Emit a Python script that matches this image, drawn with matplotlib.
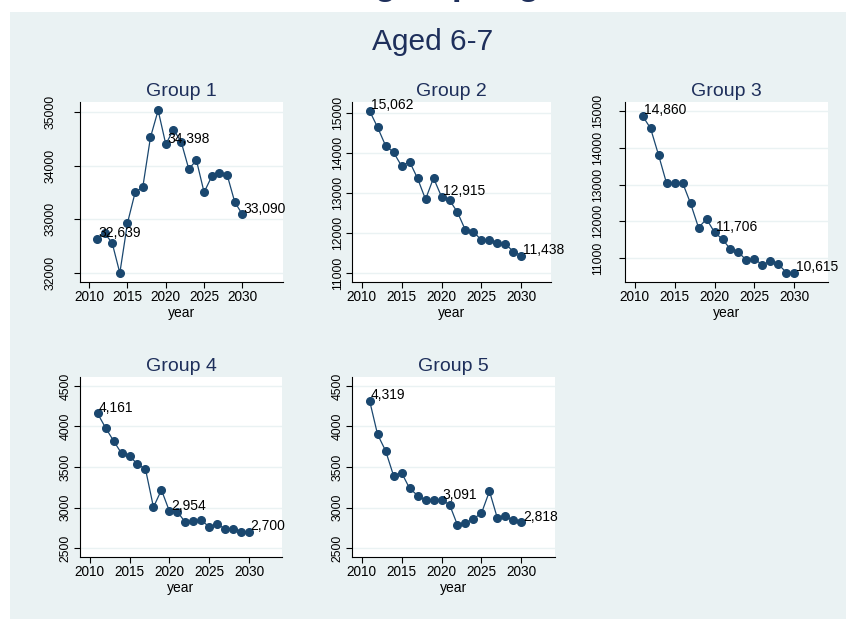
import numpy as np
import matplotlib.pyplot as plt
from matplotlib.patches import Rectangle

plt.rcParams['font.family'] = ['Liberation Sans', 'DejaVu Sans']

# Datos por grupo
years = np.arange(2011, 2031)

group1 = [32639, 32745, 32559, 32000, 32932, 33503, 33602, 34528, 35031, 34398,
          34671, 34447, 33938, 34099, 33503, 33801, 33863, 33832, 33323, 33090]
group2 = [15062, 14650, 14192, 14025, 13683, 13792, 13375, 12850, 13383, 12915,
          12833, 12525, 12075, 12042, 11825, 11833, 11750, 11733, 11542, 11438]
group3 = [14860, 14521, 13799, 13032, 13032, 13050, 12490, 11831, 12065, 11706,
          11515, 11244, 11163, 10946, 10982, 10820, 10928, 10837, 10612, 10615]
group4 = [4161, 3984, 3824, 3668, 3639, 3533, 3475, 3004, 3217, 2954,
          2947, 2816, 2836, 2844, 2758, 2799, 2730, 2738, 2697, 2700]
group5 = [4319, 3902, 3701, 3393, 3430, 3238, 3148, 3090, 3090, 3091,
          3037, 2783, 2807, 2861, 2930, 3201, 2865, 2889, 2844, 2818]

titles = ['Group 1', 'Group 2', 'Group 3', 'Group 4', 'Group 5']
series = [group1, group2, group3, group4, group5]
yticks = [np.arange(32000, 35001, 1000), np.arange(11000, 15001, 1000),
          np.arange(11000, 15001, 1000), np.arange(2500, 4501, 500),
          np.arange(2500, 4501, 500)]
labelled_years = [2011, 2020, 2030]

# posiciones en pixeles: izquierda, arriba, derecha, abajo
boxes = [(80, 102, 283, 282), (352, 102, 551, 282), (625, 102, 828, 282),
         (80, 377, 282, 557), (352, 377, 555, 557)]
xlims = [(2008.8, 2035.3), (2008.8, 2033.7), (2008.8, 2034.2),
         (2008.8, 2034.1), (2008.8, 2034.2)]
ylims = [(31832, 35186), (10783, 15283), (10358, 15236),
         (2389, 4611), (2389, 4611)]
ypads = [12.5, 2, 11, 2, 2]

W, H = 846, 619
navy = '#1a476f'
bg = '#eaf2f3'
title_col = '#1e2f5b'

fig = plt.figure(figsize=(W / 100, H / 100), dpi=100)
fig.patch.set_facecolor('white')
fig.add_artist(Rectangle((10 / W, 0), 1, 1 - 12 / H, transform=fig.transFigure,
                         facecolor=bg, edgecolor='none', zorder=0))

# titulo principal (queda cortado en el borde superior)
fig.text(507 / W, 1 + 5 / H, 'group: Aged 6-7', ha='center', va='baseline',
         fontsize=25, fontweight='bold', color=title_col)
fig.text(433 / W, 1 - 42 / H, 'Aged 6-7', ha='center', va='center',
         fontsize=21.5, color=title_col)

for i in range(5):
    l, t, r, b = boxes[i]
    ax = fig.add_axes([l / W, 1 - b / H, (r - l) / W, (b - t) / H])
    ax.set_facecolor('white')
    vals = np.array(series[i])
    ax.plot(years, vals, color=navy, linewidth=0.9, marker='o',
            markersize=5.5, markerfacecolor=navy, markeredgecolor=navy)
    for yr in labelled_years:
        v = vals[years == yr][0]
        ax.annotate(f'{v:,}', (yr, v), xytext=(1, 4), textcoords='offset points',
                    ha='left', va='center', fontsize=10, color='black')
    ax.set_xlim(*xlims[i])
    ax.set_ylim(*ylims[i])
    ax.set_xticks(np.arange(2010, 2031, 5))
    ax.set_yticks(yticks[i])
    ax.set_yticklabels([str(v) for v in yticks[i]], rotation=90, va='center')
    ax.grid(axis='y', color=bg, linewidth=1.0)
    ax.set_axisbelow(True)
    for s in ['top', 'right']:
        ax.spines[s].set_visible(False)
    for s in ['left', 'bottom']:
        ax.spines[s].set_linewidth(0.8)
    ax.tick_params(length=4, width=0.8)
    ax.tick_params(axis='x', labelsize=9.8, pad=2)
    ax.tick_params(axis='y', labelsize=8.8, pad=ypads[i])
    ax.set_xlabel('year', fontsize=10, labelpad=1.5)
    ax.set_title(titles[i], fontsize=14, color=title_col, pad=4)

fig.savefig('out.png', dpi=100, facecolor=fig.get_facecolor())
